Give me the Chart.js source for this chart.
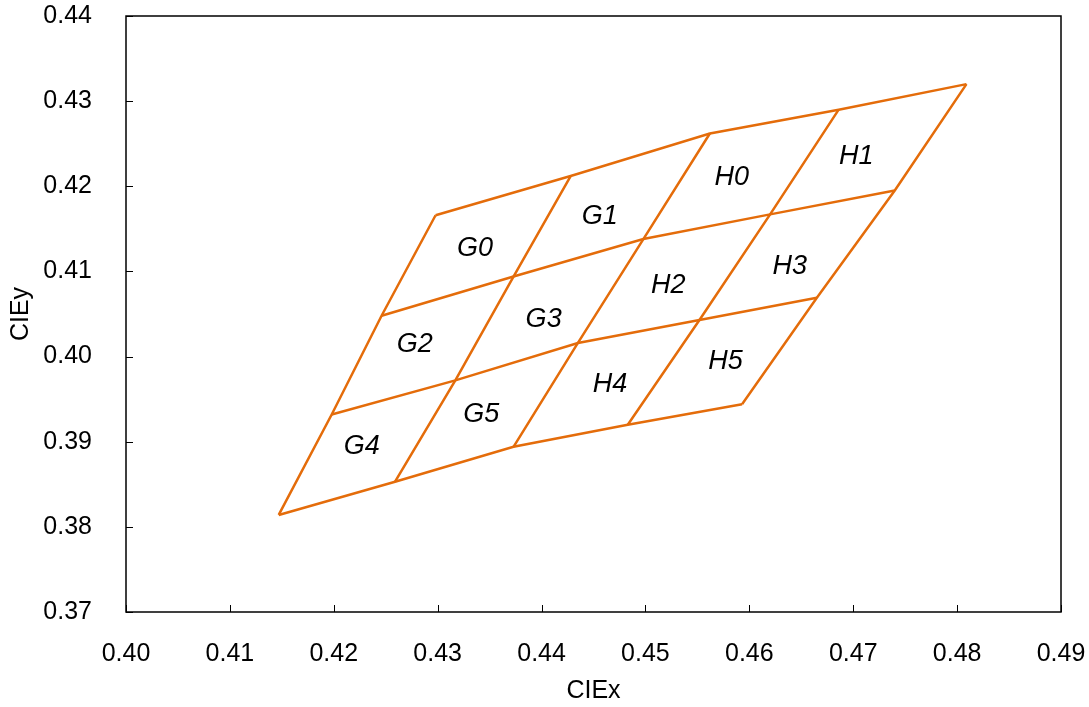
<!DOCTYPE html>
<html>
<head>
<meta charset="utf-8">
<script src="https://cdn.jsdelivr.net/npm/chart.js@4/dist/chart.umd.min.js"></script>
<style>
  html, body { margin: 0; padding: 0; background: #fff; }
  #wrap { width: 1089px; height: 707px; position: relative; }
</style>
</head>
<body>
<div id="wrap"><canvas id="c"></canvas></div>
<script>
// Axis ranges / ticks
const xTickValues = [0.40, 0.41, 0.42, 0.43, 0.44, 0.45, 0.46, 0.47, 0.48, 0.49];
const yTickValues = [0.37, 0.38, 0.39, 0.40, 0.41, 0.42, 0.43, 0.44];

// Bin grid corner points (4 rows x 5 columns), CIE x and y
const gridRow0X = [0.4298, 0.4428, 0.4562, 0.4686, 0.4809];
const gridRow0Y = [0.4166, 0.4212, 0.4262, 0.4290, 0.4320];
const gridRow1X = [0.4246, 0.4373, 0.4498, 0.4620, 0.4740];
const gridRow1Y = [0.4048, 0.4094, 0.4138, 0.4167, 0.4195];
const gridRow2X = [0.4198, 0.4317, 0.4435, 0.4552, 0.4665];
const gridRow2Y = [0.3932, 0.3972, 0.4016, 0.4043, 0.4069];
const gridRow3X = [0.4147, 0.4259, 0.4373, 0.4483, 0.4593];
const gridRow3Y = [0.3814, 0.3853, 0.3894, 0.3920, 0.3944];

// Bin names and label anchor positions
const binNames  = ['G0', 'G1', 'H0', 'H1', 'G2', 'G3', 'H2', 'H3', 'G4', 'G5', 'H4', 'H5'];
const binLabelX = [0.4336, 0.4456, 0.4583, 0.4703, 0.4278, 0.4402, 0.4522, 0.4639, 0.4227, 0.4342, 0.4466, 0.4577];
const binLabelY = [0.4127, 0.4164, 0.4210, 0.4235, 0.4014, 0.4043, 0.4084, 0.4106, 0.3894, 0.3932, 0.3967, 0.3994];

const gridX = [gridRow0X, gridRow1X, gridRow2X, gridRow3X];
const gridY = [gridRow0Y, gridRow1Y, gridRow2Y, gridRow3Y];

const lineColor = '#E46C0A';
const FONT = "'Liberation Sans', Arial, sans-serif";

const datasets = [];
// horizontal-ish boundaries (rows)
for (let r = 0; r < gridX.length; r++) {
  datasets.push({
    label: 'row' + r,
    data: gridX[r].map((x, i) => ({ x: x, y: gridY[r][i] })),
  });
}
// slanted boundaries (columns)
for (let c = 0; c < gridX[0].length; c++) {
  datasets.push({
    label: 'col' + c,
    data: gridX.map((row, r) => ({ x: row[c], y: gridY[r][c] })),
  });
}
datasets.forEach(d => {
  d.showLine = true;
  d.borderColor = lineColor;
  d.backgroundColor = lineColor;
  d.borderWidth = 2.5;
  d.pointRadius = 0;
  d.tension = 0;
  d.fill = false;
});

const framePlugin = {
  id: 'frameAndLabels',
  afterDatasetsDraw(chart) {
    const ctx = chart.ctx;
    const xs = chart.scales.x, ys = chart.scales.y;
    ctx.save();
    ctx.fillStyle = '#000';
    ctx.font = 'italic 27px ' + FONT;
    ctx.textAlign = 'center';
    ctx.textBaseline = 'middle';
    binNames.forEach((n, i) => {
      ctx.fillText(n, xs.getPixelForValue(binLabelX[i]), ys.getPixelForValue(binLabelY[i]));
    });
    ctx.restore();
  },
  afterDraw(chart) {
    const ctx = chart.ctx;
    const a = chart.chartArea;
    const xs = chart.scales.x, ys = chart.scales.y;
    ctx.save();
    ctx.strokeStyle = '#000';
    ctx.lineWidth = 1.5;
    ctx.strokeRect(a.left, a.top, a.right - a.left, a.bottom - a.top);
    ctx.lineWidth = 1;
    ctx.beginPath();
    xTickValues.forEach(v => {
      const px = Math.round(xs.getPixelForValue(v)) + 0.5;
      ctx.moveTo(px, a.bottom);
      ctx.lineTo(px, a.bottom - 7);
    });
    yTickValues.forEach(v => {
      const py = Math.round(ys.getPixelForValue(v)) + 0.5;
      ctx.moveTo(a.left, py);
      ctx.lineTo(a.left + 7, py);
    });
    ctx.stroke();
    ctx.restore();
  }
};

new Chart(document.getElementById('c'), {
  type: 'scatter',
  data: { datasets: datasets },
  options: {
    responsive: true,
    maintainAspectRatio: false,
    animation: false,
    layout: { padding: { left: 0, top: 16, right: 28, bottom: 0 } },
    plugins: { legend: { display: false }, tooltip: { enabled: false } },
    scales: {
      x: {
        type: 'linear',
        min: 0.40, max: 0.49,
        afterFit: s => { s.height = 95; s.paddingLeft = 0; s.paddingRight = 0; },
        afterBuildTicks: s => { s.ticks = xTickValues.map(v => ({ value: v })); },
        grid: { display: false, drawTicks: false },
        border: { display: false },
        ticks: {
          padding: 27,
          color: '#000',
          font: { family: FONT, size: 25 },
          callback: v => Number(v).toFixed(2),
          maxRotation: 0, autoSkip: false
        },
        title: {
          display: true, text: 'CIEx', color: '#000',
          font: { family: FONT, size: 25 },
          padding: { top: 0, bottom: 1 }
        }
      },
      y: {
        type: 'linear',
        min: 0.37, max: 0.44,
        afterFit: s => { s.width = 126; s.paddingTop = 0; s.paddingBottom = 0; },
        afterBuildTicks: s => { s.ticks = yTickValues.map(v => ({ value: v })); },
        grid: { display: false, drawTicks: false },
        border: { display: false },
        ticks: {
          padding: 34,
          color: '#000',
          font: { family: FONT, size: 25 },
          callback: v => Number(v).toFixed(2),
          autoSkip: false
        },
        title: {
          display: true, text: 'CIEy', color: '#000',
          font: { family: FONT, size: 25 },
          padding: { top: 6, bottom: 0 }
        }
      }
    }
  },
  plugins: [framePlugin]
});
</script>
</body>
</html>
